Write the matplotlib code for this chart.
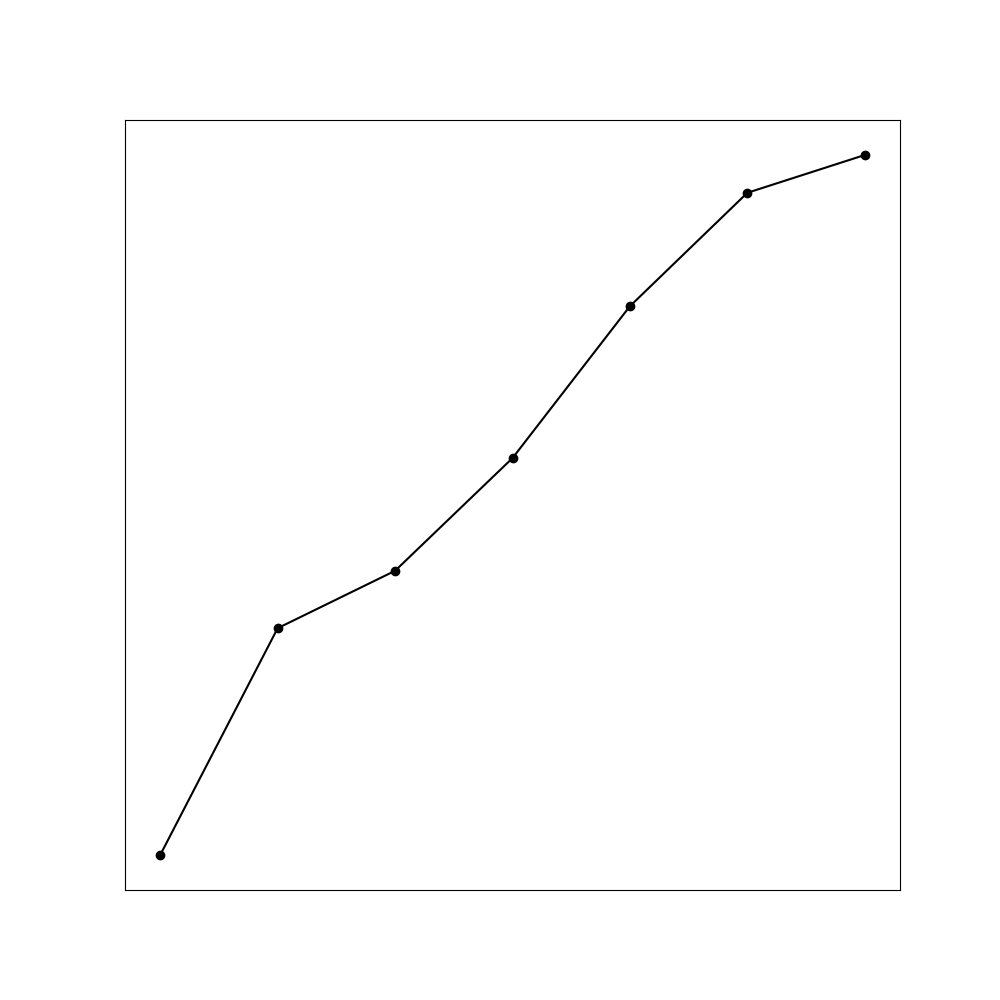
import matplotlib
matplotlib.use("Agg")
import matplotlib.pyplot as plt

x_values = [0, 1, 2, 3, 4, 5, 6]
y_values = [0.0, 32.4, 40.6, 56.7, 78.4, 94.6, 100.0]

fig, ax = plt.subplots(figsize=(10, 10), dpi=100)
ax.plot(x_values, y_values, color="black", marker="o", markersize=6, linewidth=1.5)
ax.set_xticks([])
ax.set_yticks([])
fig.savefig("out.png", dpi=100)
